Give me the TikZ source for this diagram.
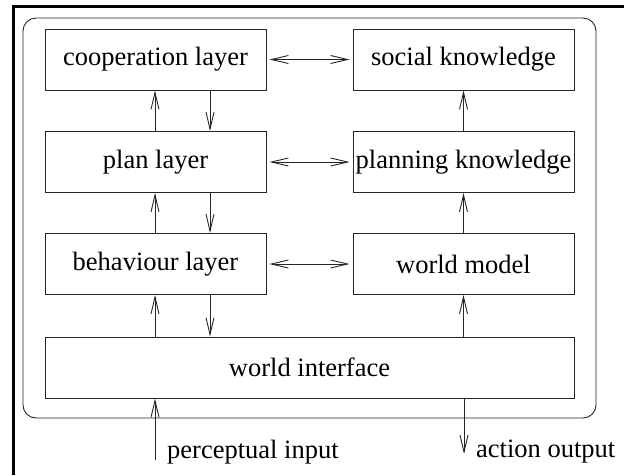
\documentclass[tikz,border=0pt]{standalone}
\usepackage{fontspec}
\setmainfont{Liberation Serif}
\newfontfamily\tms{Liberation Serif}
\usetikzlibrary{arrows.meta}
\begin{document}
\begin{tikzpicture}[x=1pt,y=-1pt,
  box/.style={draw=black!85,line width=0.9pt,minimum width=221pt,minimum height=61pt,inner sep=0pt,font=\tms\fontsize{26.5}{30}\selectfont},
  arr/.style={draw=black!85,line width=0.9pt,-{Straight Barb[length=17pt,width=8pt,line width=0.9pt]}},
  dbl/.style={draw=black!85,line width=0.9pt,{Straight Barb[length=17pt,width=8pt,line width=0.9pt]}-{Straight Barb[length=17pt,width=8pt,line width=0.9pt]}},
  lbl/.style={font=\tms\fontsize{26.5}{30}\selectfont,inner sep=0pt,anchor=west}]
\useasboundingbox (0,0) rectangle (624,475);
% outer frame
\draw[line width=3pt] (13,475) -- (13,6) -- (624,6);
\draw[draw=black!85,line width=0.9pt,rounded corners=13pt] (23,18) rectangle (596,418);
% boxes
\node[box] (coop) at (155.5,59.5) {cooperation layer};
\node[box] (plan) at (155.5,162) {plan layer};
\node[box] (beh) at (155.5,264) {behaviour layer};
\node[box] (soc) at (463.5,59.5) {social knowledge};
\node[box] (pk) at (463.5,162) {planning knowledge};
\node[box] (wm) at (463.5,264) {world model};
\node[box,minimum width=529pt] (wi) at (309.5,367.5) {world interface};
% vertical arrows left column
\draw[arr] (plan.north -| 155,0) -- (coop.south -| 155,0);
\draw[arr] (coop.south -| 210,0) -- (plan.north -| 210,0);
\draw[arr] (beh.north -| 155,0) -- (plan.south -| 155,0);
\draw[arr] (plan.south -| 210,0) -- (beh.north -| 210,0);
\draw[arr] (wi.north -| 155,0) -- (beh.south -| 155,0);
\draw[arr] (beh.south -| 210,0) -- (wi.north -| 210,0);
% right column
\draw[arr] (pk.north) -- (soc.south);
\draw[arr] (wm.north) -- (pk.south);
\draw[arr] (wi.north -| wm.south) -- (wm.south);
% horizontal double arrows
\draw[dbl] ([xshift=3pt]coop.east) -- ([xshift=-3pt]soc.west);
\draw[dbl] ([xshift=3pt]plan.east) -- ([xshift=-3pt]pk.west);
\draw[dbl] ([xshift=3pt]beh.east) -- ([xshift=-3pt]wm.west);
% input / output
\coordinate (pin) at (155,460);
\coordinate (aout) at (464,454);
\draw[arr] (pin) -- (wi.south -| pin);
\draw[arr] (wi.south -| aout) -- (aout);
\node[lbl] (plbl) at (167,452) {perceptual input};
\node[lbl] (albl) at (476,452) {action output};
\end{tikzpicture}
\end{document}
